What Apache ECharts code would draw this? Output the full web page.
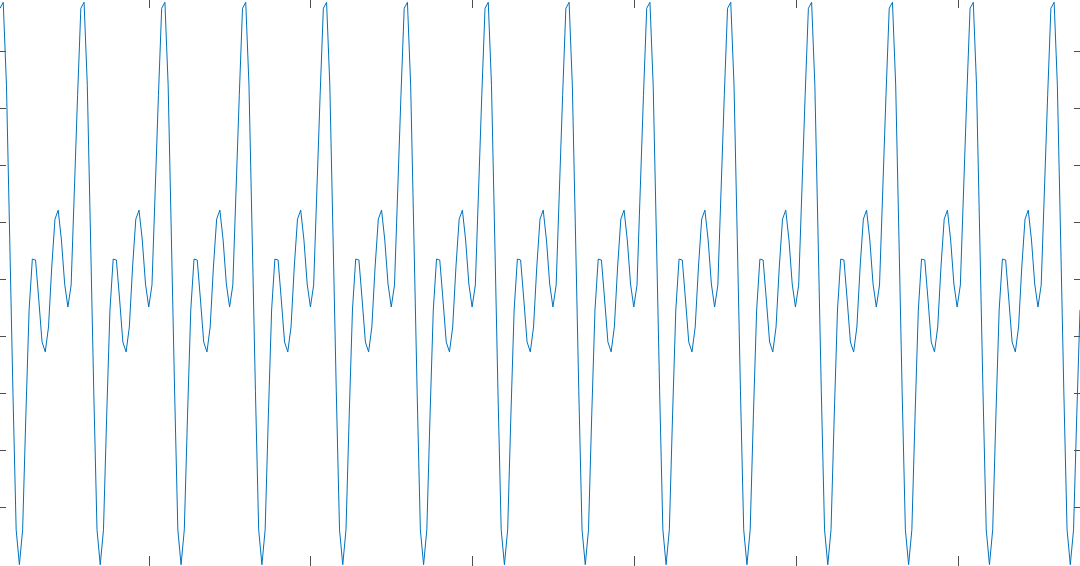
<!DOCTYPE html>
<html>
<head>
<meta charset="utf-8">
<script src="https://cdn.jsdelivr.net/npm/echarts@6/dist/echarts.min.js"></script>
<style>
  html, body { margin: 0; padding: 0; background: #ffffff; }
  #chart { width: 1080px; height: 566px; }
</style>
</head>
<body>
<div id="chart"></div>
<script>
// Signal samples (25 samples per cycle, 335 samples)
const signal = [
  2.377, 2.430, 1.702, 0.368, -0.991, -2.202, -2.509, -2.202, -1.193, -0.272, 0.175, 0.167, -0.184, -0.553, -0.640, -0.421, 0.105, 0.526, 0.605, 0.342, -0.044, -0.246, -0.053, 0.781, 1.614,
  2.377, 2.430, 1.702, 0.368, -0.991, -2.202, -2.509, -2.202, -1.193, -0.272, 0.175, 0.167, -0.184, -0.553, -0.640, -0.421, 0.105, 0.526, 0.605, 0.342, -0.044, -0.246, -0.053, 0.781, 1.614,
  2.377, 2.430, 1.702, 0.368, -0.991, -2.202, -2.509, -2.202, -1.193, -0.272, 0.175, 0.167, -0.184, -0.553, -0.640, -0.421, 0.105, 0.526, 0.605, 0.342, -0.044, -0.246, -0.053, 0.781, 1.614,
  2.377, 2.430, 1.702, 0.368, -0.991, -2.202, -2.509, -2.202, -1.193, -0.272, 0.175, 0.167, -0.184, -0.553, -0.640, -0.421, 0.105, 0.526, 0.605, 0.342, -0.044, -0.246, -0.053, 0.781, 1.614,
  2.377, 2.430, 1.702, 0.368, -0.991, -2.202, -2.509, -2.202, -1.193, -0.272, 0.175, 0.167, -0.184, -0.553, -0.640, -0.421, 0.105, 0.526, 0.605, 0.342, -0.044, -0.246, -0.053, 0.781, 1.614,
  2.377, 2.430, 1.702, 0.368, -0.991, -2.202, -2.509, -2.202, -1.193, -0.272, 0.175, 0.167, -0.184, -0.553, -0.640, -0.421, 0.105, 0.526, 0.605, 0.342, -0.044, -0.246, -0.053, 0.781, 1.614,
  2.377, 2.430, 1.702, 0.368, -0.991, -2.202, -2.509, -2.202, -1.193, -0.272, 0.175, 0.167, -0.184, -0.553, -0.640, -0.421, 0.105, 0.526, 0.605, 0.342, -0.044, -0.246, -0.053, 0.781, 1.614,
  2.377, 2.430, 1.702, 0.368, -0.991, -2.202, -2.509, -2.202, -1.193, -0.272, 0.175, 0.167, -0.184, -0.553, -0.640, -0.421, 0.105, 0.526, 0.605, 0.342, -0.044, -0.246, -0.053, 0.781, 1.614,
  2.377, 2.430, 1.702, 0.368, -0.991, -2.202, -2.509, -2.202, -1.193, -0.272, 0.175, 0.167, -0.184, -0.553, -0.640, -0.421, 0.105, 0.526, 0.605, 0.342, -0.044, -0.246, -0.053, 0.781, 1.614,
  2.377, 2.430, 1.702, 0.368, -0.991, -2.202, -2.509, -2.202, -1.193, -0.272, 0.175, 0.167, -0.184, -0.553, -0.640, -0.421, 0.105, 0.526, 0.605, 0.342, -0.044, -0.246, -0.053, 0.781, 1.614,
  2.377, 2.430, 1.702, 0.368, -0.991, -2.202, -2.509, -2.202, -1.193, -0.272, 0.175, 0.167, -0.184, -0.553, -0.640, -0.421, 0.105, 0.526, 0.605, 0.342, -0.044, -0.246, -0.053, 0.781, 1.614,
  2.377, 2.430, 1.702, 0.368, -0.991, -2.202, -2.509, -2.202, -1.193, -0.272, 0.175, 0.167, -0.184, -0.553, -0.640, -0.421, 0.105, 0.526, 0.605, 0.342, -0.044, -0.246, -0.053, 0.781, 1.614,
  2.377, 2.430, 1.702, 0.368, -0.991, -2.202, -2.509, -2.202, -1.193, -0.272, 0.175, 0.167, -0.184, -0.553, -0.640, -0.421, 0.105, 0.526, 0.605, 0.342, -0.044, -0.246, -0.053, 0.781, 1.614,
  2.377, 2.430, 1.702, 0.368, -0.991, -2.202, -2.509, -2.202, -1.193, -0.272
];

// Axis ranges and tick positions (in sample / value units)
const xRange = [0, 334];
const yRange = [-2.52, 2.45];
const xTickValues = [46.1, 96.1, 146.1, 196.1, 246.2, 296.3];
const yTickValues = [-2, -1.5, -1, -0.5, 0, 0.5, 1, 1.5, 2];

const points = signal.map((v, i) => [i, v]);

const chart = echarts.init(document.getElementById('chart'), null, { renderer: 'canvas' });

const tickColor = '#4d4d4d';
function xAxisDef(position, len) {
  return {
    type: 'value', position: position, min: xRange[0], max: xRange[1],
    axisLine: { show: false, onZero: false },
    axisLabel: { show: false },
    splitLine: { show: false },
    axisTick: { show: true, inside: true, length: len, customValues: xTickValues,
      lineStyle: { color: tickColor, width: 1 } }
  };
}
function yAxisDef(position, len) {
  return {
    type: 'value', position: position, min: yRange[0], max: yRange[1],
    axisLine: { show: false, onZero: false },
    axisLabel: { show: false },
    splitLine: { show: false },
    axisTick: { show: true, inside: true, length: len, customValues: yTickValues,
      lineStyle: { color: tickColor, width: 1 } }
  };
}

chart.setOption({
  backgroundColor: '#ffffff',
  animation: false,
  grid: { left: 0, right: 0, top: 0, bottom: 0, containLabel: false },
  xAxis: [xAxisDef('bottom', 10), xAxisDef('top', 8)],
  yAxis: [yAxisDef('left', 6), yAxisDef('right', 6)],
  series: [{
    type: 'line',
    xAxisIndex: 0,
    yAxisIndex: 0,
    data: points,
    showSymbol: false,
    symbol: 'none',
    clip: false,
    lineStyle: { color: '#0072BD', width: 1 }
  }]
});
</script>
</body>
</html>
